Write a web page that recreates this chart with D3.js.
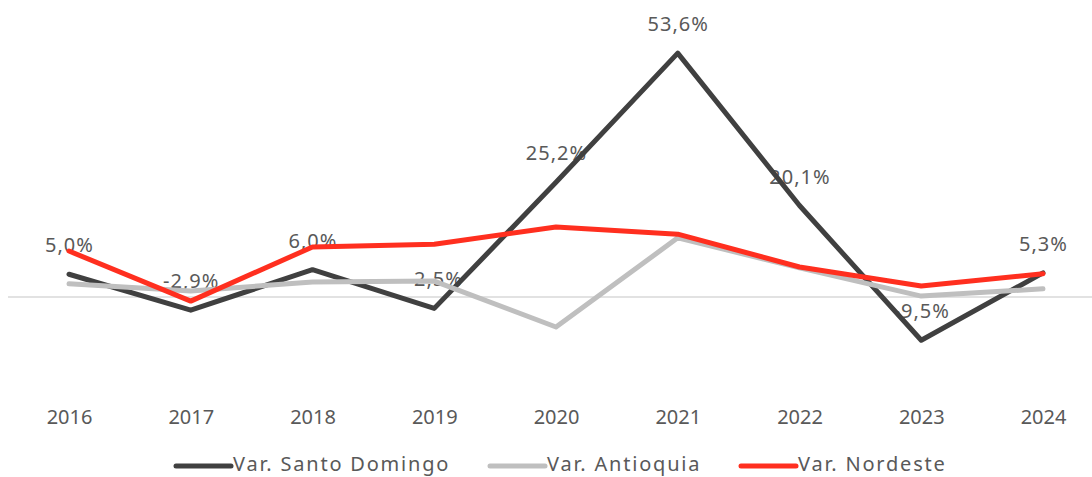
<!DOCTYPE html>
<html><head><meta charset="utf-8">
<script src="https://cdn.jsdelivr.net/npm/d3@7"></script>
<style>body{margin:0;background:#fff}svg{display:block}</style>
</head><body>
<script>
const years = ["2016","2017","2018","2019","2020","2021","2022","2023","2024"];
const santoDomingo = [5.0, -2.9, 6.0, -2.5, 25.2, 53.6, 20.1, -9.5, 5.3];
const antioquia = [2.9, 1.3, 3.3, 3.5, -6.6, 13.0, 6.4, 0.2, 1.8];
const nordeste = [10.1, -0.9, 11.0, 11.6, 15.4, 13.8, 6.6, 2.4, 5.1];
const seriesNames = ["Var. Santo Domingo", "Var. Antioquia", "Var. Nordeste"];
const seriesColors = ["#404040", "#bfbfbf", "#ff2f1f"];

const W = 1092, H = 477;
const svg = d3.select("body").append("svg").attr("width", W).attr("height", H);
const font = "'Noto Sans', sans-serif";
const textColor = "#595959";

const x = d3.scalePoint().domain(years).range([69, 1043]);
const y = d3.scaleLinear().domain([-20, 60]).range([388, 24]);

// zero line
svg.append("line").attr("x1", 8).attr("x2", 1092)
  .attr("y1", y(0)).attr("y2", y(0))
  .attr("stroke", "#d9d9d9").attr("stroke-width", 1.5);

// x axis labels
const xAxis = d3.axisBottom(x).tickSize(0).tickPadding(0);
const ax = svg.append("g").attr("transform", "translate(0,410)").call(xAxis);
ax.select(".domain").remove();
ax.selectAll("text").attr("font-family", font).attr("font-size", 20)
  .attr("fill", textColor).attr("dy", null).attr("y", 14);

const fmt = v => d3.format(".1f")(v).replace(".", ",").replace("−", "-") + "%";

// data labels (under lines)
svg.append("g").selectAll("text").data(santoDomingo).join("text")
  .attr("x", (d, i) => x(years[i]) + 0.5)
  .attr("y", d => y(d) - 22)
  .attr("text-anchor", "middle")
  .attr("letter-spacing", 1)
  .attr("font-family", font).attr("font-size", 20).attr("fill", textColor)
  .text(d => fmt(d));

const allSeries = [santoDomingo, antioquia, nordeste];
const line = d3.line().x((d, i) => x(years[i])).y(d => y(d));
allSeries.forEach((s, k) => {
  svg.append("path").datum(s).attr("d", line)
    .attr("fill", "none").attr("stroke", seriesColors[k])
    .attr("stroke-width", 5).attr("stroke-linejoin", "round").attr("stroke-linecap", "round");
});

// legend
const legendX = [176, 490, 741];
const lg = svg.append("g");
seriesNames.forEach((n, k) => {
  lg.append("line").attr("x1", legendX[k]).attr("x2", legendX[k] + 55)
    .attr("y1", 466).attr("y2", 466)
    .attr("stroke", seriesColors[k]).attr("stroke-width", 5).attr("stroke-linecap", "round");
  lg.append("text").attr("x", legendX[k] + 57).attr("y", 471)
    .attr("font-family", font).attr("font-size", 20).attr("fill", textColor)
    .attr("letter-spacing", 1.8)
    .text(n);
});
</script>
</body></html>
